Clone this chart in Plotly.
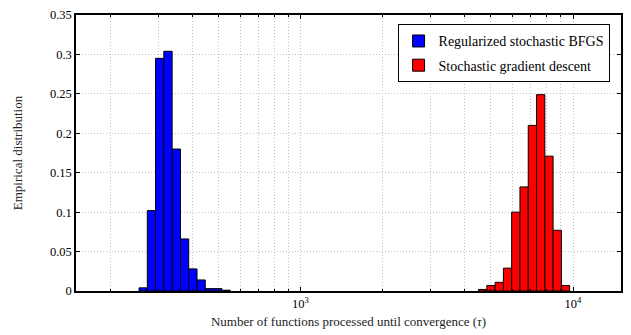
import numpy as np
import plotly.graph_objects as go

# Histogram bin edges (number of functions processed) and empirical frequencies
bfgs_edges = [255.5, 274.0, 293.8, 315.1, 338.0, 362.5, 388.8, 417.0, 447.2, 479.6, 514.4, 551.7]
bfgs_freq = [0.004, 0.102, 0.295, 0.304, 0.180, 0.066, 0.028, 0.014, 0.003, 0.003, 0.001]

sgd_edges = [4501, 4827, 5177, 5553, 5955, 6387, 6850, 7347, 7880, 8451, 9064, 9721]
sgd_freq = [0.002, 0.007, 0.011, 0.029, 0.100, 0.132, 0.210, 0.249, 0.171, 0.077, 0.007]

series_names = ["Regularized stochastic BFGS", "Stochastic gradient descent"]
series_colors = ["#0000ff", "#ff0000"]

x_major_vals = [1000, 10000]
x_major_text = ["10<sup>3</sup>", "10<sup>4</sup>"]
x_minor_vals = [200, 300, 400, 500, 600, 700, 800, 900,
                2000, 3000, 4000, 5000, 6000, 7000, 8000, 9000]
y_ticks = [0, 0.05, 0.1, 0.15, 0.2, 0.25, 0.3, 0.35]
y_tick_text = ["0", "0.05", "0.1", "0.15", "0.2", "0.25", "0.3", "0.35"]

FONT = "Liberation Serif"
GRID = "#c4c4c4"

fig = go.Figure()
for i, (edges, freq) in enumerate([(bfgs_edges, bfgs_freq), (sgd_edges, sgd_freq)]):
    e = np.array(edges, dtype=float)
    fig.add_trace(go.Bar(
        x=e[:-1], y=freq, width=np.diff(e), offset=0,
        name=series_names[i], legendgroup=f"g{i}",
        marker=dict(color=series_colors[i], line=dict(color="black", width=1)),
    ))

axis_common = dict(
    showline=True, linecolor="black", linewidth=1.5, mirror="ticks",
    ticks="inside", ticklen=4, tickcolor="black",
    showgrid=True, gridcolor=GRID, griddash="1px,2px", gridwidth=1,
    zeroline=False, tickfont=dict(family=FONT, size=12.5, color="black"),
)

fig.update_xaxes(
    type="log", range=[np.log10(150), np.log10(15000)],
    tickmode="array", tickvals=x_major_vals, ticktext=x_major_text,
    minor=dict(tickmode="array", tickvals=x_minor_vals, ticks="inside", ticklen=2,
               tickcolor="black", showgrid=True, gridcolor=GRID,
               griddash="1px,2px", gridwidth=1),
    title=dict(text="Number of functions processed until convergence (<i>τ</i>)",
               font=dict(family=FONT, size=13, color="#222"), standoff=7),
    **axis_common,
)
fig.update_yaxes(
    range=[0, 0.35], tickmode="array", tickvals=y_ticks, ticktext=y_tick_text,
    title=dict(text="Empirical distribution",
               font=dict(family=FONT, size=13, color="#222"), standoff=24),
    **axis_common,
)

fig.update_layout(
    width=631, height=335,
    margin=dict(l=76, r=8, t=11, b=42),
    plot_bgcolor="white", paper_bgcolor="white",
    barmode="overlay",
    showlegend=True,
    font=dict(family=FONT),
    legend=dict(
        x=0.979, y=0.966, xanchor="right", yanchor="top",
        bgcolor="white", bordercolor="black", borderwidth=1,
        font=dict(family=FONT, size=14, color="black"),
        tracegroupgap=3,
    ),
)

fig.write_html("out.html")
